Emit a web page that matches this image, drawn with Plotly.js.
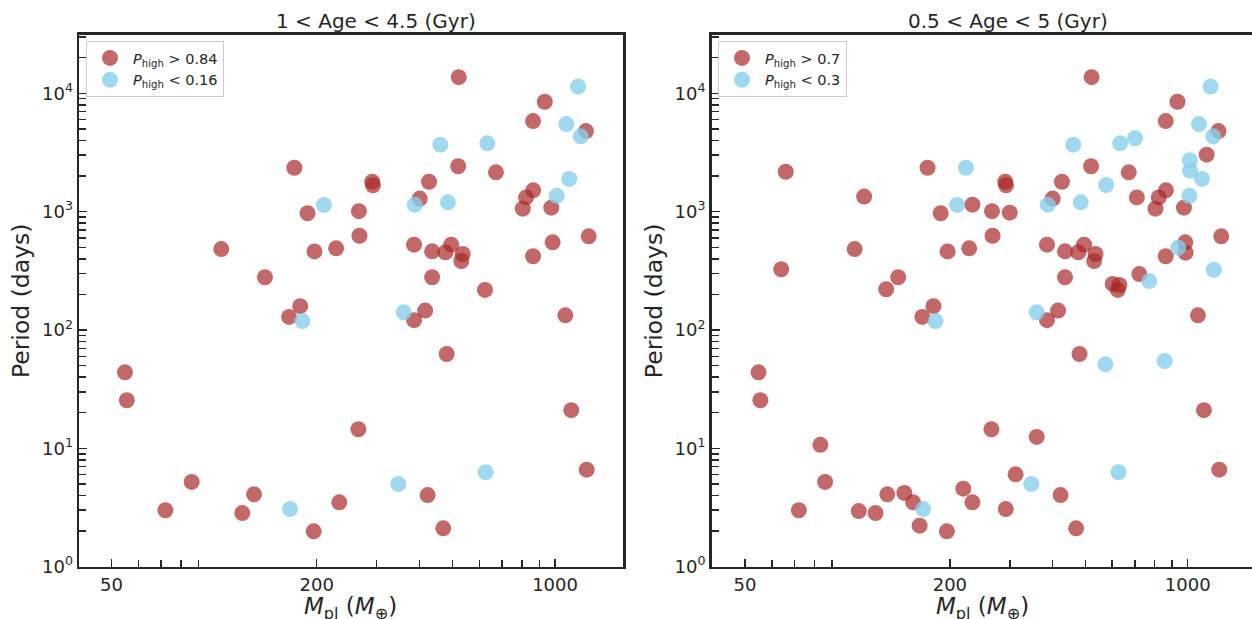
<!DOCTYPE html>
<html>
<head>
<meta charset="utf-8">
<script src="https://cdn.plot.ly/plotly-3.0.1.min.js"></script>
<style>html,body{margin:0;padding:0;background:#fff;}#chart{width:1252px;height:619px;}</style>
</head>
<body>
<div id="chart"></div>
<script>
// ---- Data (planet mass in Earth masses, orbital period in days) ----
const leftRedMass = [172,188,105,197,141,179,166,54.8,55.5,86,72,121,131,196,522,933,862,1232,520,671,291,292.5,427,863,822,401,804,975,266,267,1255,984,386,496,228,436,477,536,531,862,436,623,416,386,1072,481,1116,265,1238,423,233,470];
const leftRedPeriod = [2350,970,483,461,279,159,129,43.9,25.5,5.2,3.0,2.84,4.09,1.99,13700,8490,5830,4800,2420,2150,1790,1670,1790,1515,1320,1290,1060,1080,1010,626,619,551,526,526,490,462,453,439,383,420,279,218,146,121,133,62.7,21,14.5,6.6,4.03,3.5,2.11];
const leftBlueMass = [181.5,167,1168,1079,1189,461,633,1101,1011,388,210,485,360,626,347];
const leftBluePeriod = [119,3.07,11400,5500,4330,3680,3780,1890,1360,1145,1140,1200,141,6.28,5.0];

// extra planets appearing only in the wider age bin (right panel)
const extraRedMass = [65.9,112,63.9,130,83.3,108,147,156,163,1137,709,233,300,986,721,602,630,360,219,312,292];
const extraRedPeriod = [2175,1340,326,221,10.7,2.95,4.2,3.5,2.22,3030,1320,1145,980,450,297,245,240,12.5,4.56,6.03,3.07];
const extraBlueMass = [700,1015,1016,223,576,938,1194,771,573,856];
const extraBluePeriod = [4170,2720,2220,2350,1680,496,323,259,51.3,54.7];

const rightRedMass = leftRedMass.concat(extraRedMass);
const rightRedPeriod = leftRedPeriod.concat(extraRedPeriod);
const rightBlueMass = leftBlueMass.concat(extraBlueMass);
const rightBluePeriod = leftBluePeriod.concat(extraBluePeriod);

const panelTitles = ["1 &lt; Age &lt; 4.5 (Gyr)", "0.5 &lt; Age &lt; 5 (Gyr)"];
const legendRed = ["<i>P</i><sub>high</sub> &gt; 0.84", "<i>P</i><sub>high</sub> &gt; 0.7"];
const legendBlue = ["<i>P</i><sub>high</sub> &lt; 0.16", "<i>P</i><sub>high</sub> &lt; 0.3"];
const xLabel = '<i>M</i><sub>pl</sub> (<i>M</i><sub>⊕</sub>)';
const yLabel = 'Period (days)';

const xTickVals = [50, 200, 1000];
const xTickText = ["50", "200", "1000"];
const xMinorVals = [60,70,80,90,300,400,500,600,700,800,900];
const yTickVals = [1, 10, 100, 1000, 10000];
const yTickText = ["10<sup>0</sup>","10<sup>1</sup>","10<sup>2</sup>","10<sup>3</sup>","10<sup>4</sup>"];
const yMinorVals = [2,3,4,5,6,7,8,9,20,30,40,50,60,70,80,90,200,300,400,500,600,700,800,900,2000,3000,4000,5000,6000,7000,8000,9000,20000,30000];

// ---- Styles ----
const RED = 'rgba(170,40,40,0.7)';
const BLUE = 'rgba(135,206,235,0.8)';
const INK = '#262626';
const FONT = 'DejaVu Sans, sans-serif';
const MSIZE = 16;

function mk(x, y, color, name, xa, ya, leg) {
  return {x: x, y: y, type: 'scatter', mode: 'markers', name: name,
    xaxis: xa, yaxis: ya, legend: leg,
    marker: {color: color, size: MSIZE, line: {width: 0}}};
}

const data = [
  mk(leftRedMass, leftRedPeriod, RED, legendRed[0], 'x', 'y', 'legend'),
  mk(leftBlueMass, leftBluePeriod, BLUE, legendBlue[0], 'x', 'y', 'legend'),
  mk(rightRedMass, rightRedPeriod, RED, legendRed[1], 'x2', 'y2', 'legend2'),
  mk(rightBlueMass, rightBluePeriod, BLUE, legendBlue[1], 'x2', 'y2', 'legend2')
];

function xAxis(domain, range, anchor, mirror) {
  return {type: 'log', domain: domain, range: range, anchor: anchor,
    showline: true, linewidth: 2.5, linecolor: INK, mirror: mirror,
    showgrid: false, zeroline: false,
    ticks: 'inside', ticklen: 8, tickwidth: 1.5, tickcolor: INK,
    tickmode: 'array', tickvals: xTickVals, ticktext: xTickText,
    minor: {ticks: 'inside', ticklen: 7, tickwidth: 1.5, tickcolor: INK, tickmode: 'array', tickvals: xMinorVals, showgrid: false},
    tickfont: {family: FONT, size: 18, color: INK},
    automargin: false};
}
function yAxis(domain, anchor, mirror) {
  return {type: 'log', domain: domain, range: [0, 4.493], anchor: anchor,
    showline: true, linewidth: 2.5, linecolor: INK, mirror: mirror,
    showgrid: false, zeroline: false,
    ticks: 'inside', ticklen: 8, tickwidth: 1.5, tickcolor: INK,
    tickmode: 'array', tickvals: yTickVals, ticktext: yTickText,
    minor: {ticks: 'inside', ticklen: 7, tickwidth: 1.5, tickcolor: INK, tickmode: 'array', tickvals: yMinorVals, showgrid: false},
    tickfont: {family: FONT, size: 18, color: INK},
    automargin: false,
    title: {text: yLabel, font: {family: FONT, size: 23.5, color: INK}, standoff: 6}};
}

const yDom = [0.0845, 0.9435];
const legendStyle = {bgcolor: 'rgba(255,255,255,0.8)', bordercolor: '#cccccc', borderwidth: 1,
  font: {family: FONT, size: 14.5, color: INK}, xanchor: 'left', yanchor: 'top', tracegroupgap: 0, itemwidth: 36};

function ann(text, xref, x, ypix, size, anchor) {
  return {text: text, xref: xref, yref: 'paper', x: x, y: (619 - ypix) / 619,
    xanchor: 'center', yanchor: anchor, showarrow: false,
    font: {family: FONT, size: size, color: INK}};
}

const layout = {
  width: 1252, height: 619,
  margin: {l: 0, r: 0, t: 0, b: 0},
  paper_bgcolor: '#ffffff', plot_bgcolor: '#ffffff',
  font: {family: FONT, color: INK},
  showlegend: true,
  xaxis: xAxis([0.0631, 0.4978], [1.604, 3.200], 'y', true),
  yaxis: yAxis(yDom, 'x', true),
  xaxis2: xAxis([0.5684, 1.0], [1.601, 3.189], 'y2', true),
  yaxis2: yAxis(yDom, 'x2', false),
  legend: Object.assign({x: 0.0687, y: 0.9338}, legendStyle),
  legend2: Object.assign({x: 0.5735, y: 0.9338}, legendStyle),
  annotations: [
    ann(panelTitles[0], 'paper', 376/1252, 21, 20, 'middle'),
    ann(panelTitles[1], 'paper', 1008/1252, 21, 20, 'middle'),
    ann(xLabel, 'paper', 350/1252, 591, 23, 'top'),
    ann(xLabel, 'paper', 982/1252, 591, 23, 'top')
  ]
};

Plotly.newPlot('chart', data, layout, {displayModeBar: false, staticPlot: true});
</script>
</body>
</html>
